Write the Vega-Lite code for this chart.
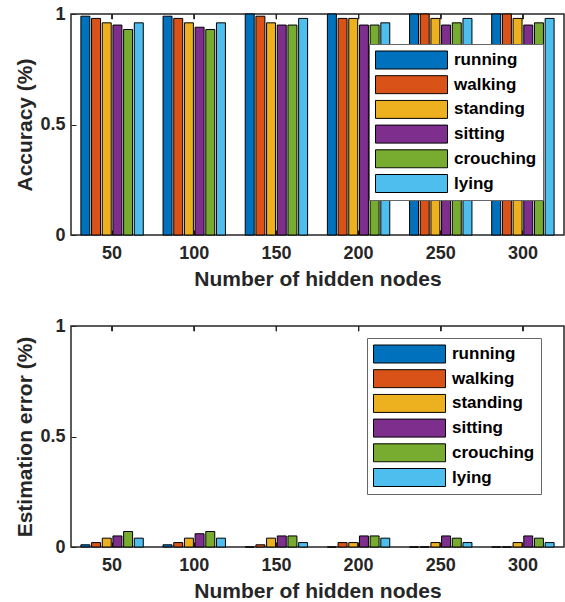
{
  "$schema": "https://vega.github.io/schema/vega-lite/v6.json",
  "autosize": {"type": "pad"},
  "padding": {"left": 14, "top": 4, "right": 0, "bottom": 0},
  "background": "white",
  "data": {"values": [
    {"nodes": 50, "activity": "running", "accuracy": 0.99, "error": 0.01},
    {"nodes": 50, "activity": "walking", "accuracy": 0.98, "error": 0.02},
    {"nodes": 50, "activity": "standing", "accuracy": 0.96, "error": 0.04},
    {"nodes": 50, "activity": "sitting", "accuracy": 0.95, "error": 0.05},
    {"nodes": 50, "activity": "crouching", "accuracy": 0.93, "error": 0.07},
    {"nodes": 50, "activity": "lying", "accuracy": 0.96, "error": 0.04},
    {"nodes": 100, "activity": "running", "accuracy": 0.99, "error": 0.01},
    {"nodes": 100, "activity": "walking", "accuracy": 0.98, "error": 0.02},
    {"nodes": 100, "activity": "standing", "accuracy": 0.96, "error": 0.04},
    {"nodes": 100, "activity": "sitting", "accuracy": 0.94, "error": 0.06},
    {"nodes": 100, "activity": "crouching", "accuracy": 0.93, "error": 0.07},
    {"nodes": 100, "activity": "lying", "accuracy": 0.96, "error": 0.04},
    {"nodes": 150, "activity": "running", "accuracy": 1.0, "error": 0.0},
    {"nodes": 150, "activity": "walking", "accuracy": 0.99, "error": 0.01},
    {"nodes": 150, "activity": "standing", "accuracy": 0.96, "error": 0.04},
    {"nodes": 150, "activity": "sitting", "accuracy": 0.95, "error": 0.05},
    {"nodes": 150, "activity": "crouching", "accuracy": 0.95, "error": 0.05},
    {"nodes": 150, "activity": "lying", "accuracy": 0.98, "error": 0.02},
    {"nodes": 200, "activity": "running", "accuracy": 1.0, "error": 0.0},
    {"nodes": 200, "activity": "walking", "accuracy": 0.98, "error": 0.02},
    {"nodes": 200, "activity": "standing", "accuracy": 0.98, "error": 0.02},
    {"nodes": 200, "activity": "sitting", "accuracy": 0.95, "error": 0.05},
    {"nodes": 200, "activity": "crouching", "accuracy": 0.95, "error": 0.05},
    {"nodes": 200, "activity": "lying", "accuracy": 0.96, "error": 0.04},
    {"nodes": 250, "activity": "running", "accuracy": 1.0, "error": 0.0},
    {"nodes": 250, "activity": "walking", "accuracy": 1.0, "error": 0.0},
    {"nodes": 250, "activity": "standing", "accuracy": 0.98, "error": 0.02},
    {"nodes": 250, "activity": "sitting", "accuracy": 0.95, "error": 0.05},
    {"nodes": 250, "activity": "crouching", "accuracy": 0.96, "error": 0.04},
    {"nodes": 250, "activity": "lying", "accuracy": 0.98, "error": 0.02},
    {"nodes": 300, "activity": "running", "accuracy": 1.0, "error": 0.0},
    {"nodes": 300, "activity": "walking", "accuracy": 1.0, "error": 0.0},
    {"nodes": 300, "activity": "standing", "accuracy": 0.98, "error": 0.02},
    {"nodes": 300, "activity": "sitting", "accuracy": 0.95, "error": 0.05},
    {"nodes": 300, "activity": "crouching", "accuracy": 0.96, "error": 0.04},
    {"nodes": 300, "activity": "lying", "accuracy": 0.98, "error": 0.02}
  ]},
  "spacing": 26,
  "resolve": {"legend": {"color": "independent"}},
  "vconcat": [
    {
      "width": 493,
      "height": 221,
      "layer": [
        {
          "mark": {"type": "bar", "stroke": "black", "strokeWidth": 1},
          "encoding": {
            "x": {"field": "nodes", "type": "ordinal", "scale": {"paddingInner": 0.22, "paddingOuter": 0.11},
                  "axis": {"title": "Number of hidden nodes", "labelAngle": 0, "tickSize": -5, "labelPadding": 14, "titlePadding": 6}},
            "xOffset": {"field": "activity", "type": "nominal", "sort": ["running", "walking", "standing", "sitting", "crouching", "lying"], "scale": {"paddingInner": 0.16, "paddingOuter": 0.08}},
            "y": {"field": "accuracy", "type": "quantitative", "scale": {"domain": [0, 1], "nice": false},
                  "axis": {"title": "Accuracy (%)", "values": [0, 0.5, 1], "format": "~g", "tickSize": -5, "labelPadding": 11, "titlePadding": 4}},
            "color": {"field": "activity", "type": "nominal",
                      "scale": {"domain": ["running", "walking", "standing", "sitting", "crouching", "lying"], "range": ["#0072BD", "#D95319", "#EDB120", "#7E2F8E", "#77AC30", "#4DBEEE"]},
                      "legend": {"orient": "none", "legendX": 298, "legendY": 30, "title": null}}
          }
        },
        {
          "mark": {"type": "rule", "color": "#262626", "strokeWidth": 1},
          "encoding": {
            "x": {"field": "nodes", "type": "ordinal",
                  "axis": {"title": "Number of hidden nodes", "labelAngle": 0, "tickSize": -5, "labelPadding": 14, "titlePadding": 6}},
            "y": {"datum": 1, "type": "quantitative",
                  "axis": {"title": "Accuracy (%)", "values": [0, 0.5, 1], "format": "~g", "tickSize": -5, "labelPadding": 11, "titlePadding": 4}},
            "y2": {"datum": 0.977}
          }
        }
      ]
    },
    {
      "width": 493,
      "height": 221,
      "layer": [
        {
          "mark": {"type": "bar", "stroke": "black", "strokeWidth": 1},
          "encoding": {
            "x": {"field": "nodes", "type": "ordinal", "scale": {"paddingInner": 0.22, "paddingOuter": 0.11},
                  "axis": {"title": "Number of hidden nodes", "labelAngle": 0, "tickSize": -5, "labelPadding": 14, "titlePadding": 6}},
            "xOffset": {"field": "activity", "type": "nominal", "sort": ["running", "walking", "standing", "sitting", "crouching", "lying"], "scale": {"paddingInner": 0.16, "paddingOuter": 0.08}},
            "y": {"field": "error", "type": "quantitative", "scale": {"domain": [0, 1], "nice": false},
                  "axis": {"title": "Estimation error (%)", "values": [0, 0.5, 1], "format": "~g", "tickSize": -5, "labelPadding": 11, "titlePadding": 4}},
            "color": {"field": "activity", "type": "nominal",
                      "scale": {"domain": ["running", "walking", "standing", "sitting", "crouching", "lying"], "range": ["#0072BD", "#D95319", "#EDB120", "#7E2F8E", "#77AC30", "#4DBEEE"]},
                      "legend": {"orient": "none", "legendX": 296, "legendY": 12, "title": null}}
          }
        },
        {
          "mark": {"type": "rule", "color": "#262626", "strokeWidth": 1},
          "encoding": {
            "x": {"field": "nodes", "type": "ordinal",
                  "axis": {"title": "Number of hidden nodes", "labelAngle": 0, "tickSize": -5, "labelPadding": 14, "titlePadding": 6}},
            "y": {"datum": 1, "type": "quantitative",
                  "axis": {"title": "Estimation error (%)", "values": [0, 0.5, 1], "format": "~g", "tickSize": -5, "labelPadding": 11, "titlePadding": 4}},
            "y2": {"datum": 0.977}
          }
        }
      ]
    }
  ],
  "config": {
    "view": {"stroke": "#262626", "strokeWidth": 1.5},
    "axis": {
      "domain": false,
      "grid": false,
      "tickColor": "#262626",
      "tickWidth": 1,
      "labelFont": "Liberation Sans",
      "labelFontSize": 18,
      "labelFontWeight": "bold",
      "labelColor": "#262626",
      "titleFont": "Liberation Sans",
      "titleFontSize": 21,
      "titleFontWeight": "bold",
      "titleColor": "#262626"
    },
    "legend": {
      "symbolType": "M-1,-0.25H1V0.25H-1Z",
      "symbolSize": 5184,
      "symbolStrokeColor": "black",
      "symbolStrokeWidth": 1,
      "symbolOpacity": 1,
      "clipHeight": 20,
      "rowPadding": 4.7,
      "labelOffset": 6,
      "labelFont": "Liberation Sans",
      "labelFontSize": 17,
      "labelFontWeight": "bold",
      "labelColor": "black",
      "padding": 6,
      "strokeColor": "#666",
      "fillColor": "white",
      "cornerRadius": 0
    }
  }
}
